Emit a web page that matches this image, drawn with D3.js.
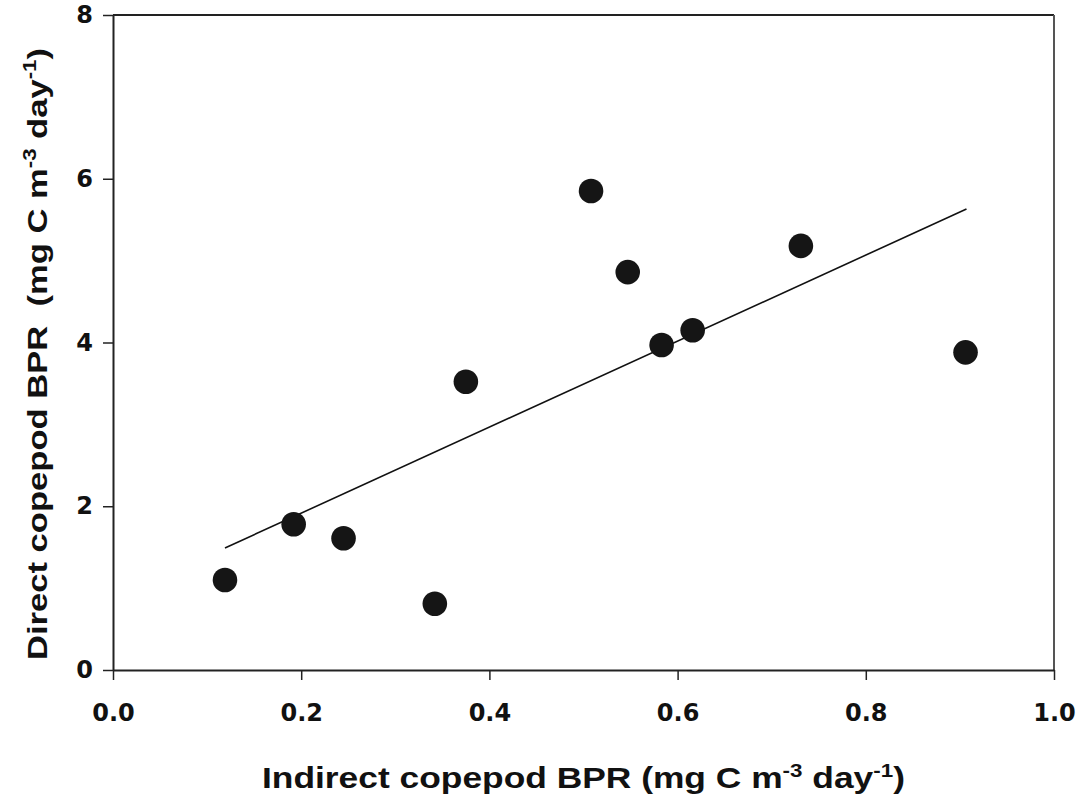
<!DOCTYPE html>
<html>
<head>
<meta charset="utf-8">
<script src="https://cdn.jsdelivr.net/npm/d3@7"></script>
<style>
  body { margin: 0; background: #fff; }
  text { font-family: "Liberation Sans", Arial, sans-serif; font-weight: bold; fill: #111; }
</style>
</head>
<body>
<div id="chart"></div>
<script>
// indirect BPR (x) vs direct BPR (y), mg C m-3 day-1
const indirectBPR = [0.119, 0.192, 0.245, 0.342, 0.375, 0.508, 0.547, 0.583, 0.616, 0.731, 0.906];
const directBPR   = [1.10, 1.78, 1.61, 0.81, 3.52, 5.85, 4.86, 3.97, 4.15, 5.18, 3.88];

// regression line end points
const fitX = [0.119, 0.907];
const fitY = [1.49, 5.63];

const xTicks = [0.0, 0.2, 0.4, 0.6, 0.8, 1.0];
const yTicks = [0, 2, 4, 6, 8];

const config = {
  width: 1083,
  height: 799,
  margin: { top: 15, right: 29, bottom: 129, left: 113 },
};
const w = config.width - config.margin.left - config.margin.right;
const h = config.height - config.margin.top - config.margin.bottom;

const svg = d3.select("#chart")
  .append("svg")
  .attr("width", config.width)
  .attr("height", config.height);

const g = svg.append("g")
  .attr("transform", `translate(${config.margin.left},${config.margin.top})`);

const x = d3.scaleLinear().domain([0, 1]).range([0, w]);
const y = d3.scaleLinear().domain([0, 8]).range([h, 0]);

// frame lines (top and right)
g.append("line")
  .attr("x1", 0).attr("x2", w).attr("y1", 0).attr("y2", 0)
  .attr("stroke", "#222").attr("stroke-width", 2);
g.append("line")
  .attr("x1", w).attr("x2", w).attr("y1", 0).attr("y2", h)
  .attr("stroke", "#555").attr("stroke-width", 2);

const xAxis = g.append("g")
  .attr("transform", `translate(0,${h})`)
  .call(d3.axisBottom(x).tickValues(xTicks).tickFormat(d3.format(".1f")).tickSize(10).tickPadding(19).tickSizeOuter(0));

const yAxis = g.append("g")
  .call(d3.axisLeft(y).tickValues(yTicks).tickFormat(d3.format("d")).tickSize(10).tickPadding(10).tickSizeOuter(0));

[xAxis, yAxis].forEach((a) => {
  a.attr("font-size", 24).attr("font-family", '"DejaVu Sans", sans-serif');
  a.select(".domain").attr("stroke", "#222").attr("stroke-width", 2);
  a.selectAll(".tick line").attr("stroke", "#222").attr("stroke-width", 1.5);
  a.selectAll(".tick text")
    .style("font-family", '"DejaVu Sans", sans-serif')
    .style("font-size", "24px")
    .attr("fill", "#111");
});
xAxis.selectAll(".tick text").attr("dy", "0.9em");

// fit line
g.append("line")
  .attr("x1", x(fitX[0])).attr("y1", y(fitY[0]))
  .attr("x2", x(fitX[1])).attr("y2", y(fitY[1]))
  .attr("stroke", "#111").attr("stroke-width", 1.6);

// points
g.selectAll("circle.pt")
  .data(indirectBPR.map((v, i) => ({ x: v, y: directBPR[i] })))
  .join("circle")
  .attr("class", "pt")
  .attr("cx", (d) => x(d.x))
  .attr("cy", (d) => y(d.y))
  .attr("r", 12.3)
  .attr("fill", "#151515");

// x axis title
const xt = svg.append("text")
  .attr("x", 262)
  .attr("y", 788)
  .attr("textLength", 643)
  .attr("lengthAdjust", "spacingAndGlyphs")
  .style("font-size", "30px");
xt.append("tspan").text("Indirect copepod BPR (mg C m");
xt.append("tspan").attr("dy", -11).style("font-size", "19px").text("-3");
xt.append("tspan").attr("dy", 11).text(" day");
xt.append("tspan").attr("dy", -11).style("font-size", "19px").text("-1");
xt.append("tspan").attr("dy", 11).text(")");

// y axis title
const yt = svg.append("text")
  .attr("transform", "translate(47,660) rotate(-90)")
  .attr("textLength", 612)
  .attr("lengthAdjust", "spacingAndGlyphs")
  .style("font-size", "28px");
yt.append("tspan").text("Direct copepod BPR\u00a0\u00a0(mg C m");
yt.append("tspan").attr("dy", -11).style("font-size", "18px").text("-3");
yt.append("tspan").attr("dy", 11).text(" day");
yt.append("tspan").attr("dy", -11).style("font-size", "18px").text("-1");
yt.append("tspan").attr("dy", 11).text(")");
</script>
</body>
</html>
